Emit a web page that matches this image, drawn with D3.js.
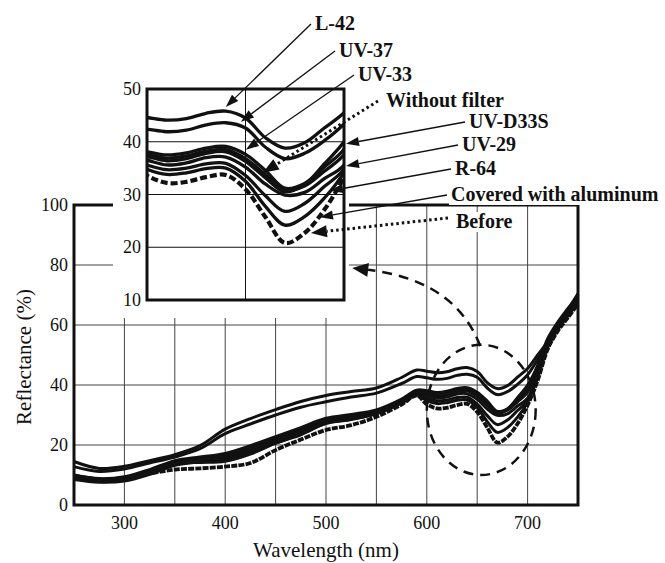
<!DOCTYPE html>
<html>
<head>
<meta charset="utf-8">
<script src="https://cdn.jsdelivr.net/npm/d3@7"></script>
<style>
body { margin: 0; background: #fff; }
text { font-family: "Liberation Serif", "Times New Roman", serif; fill: #111; }
</style>
</head>
<body>
<div id="viz"></div>
<script>
var wavelengths = [250, 275, 300, 325, 350, 375, 400, 425, 450, 475, 500, 525, 550, 575, 590,
  600, 610, 620, 630, 640, 650, 660, 670, 680, 690, 700, 710, 720, 730, 740, 750]

var l42 = [14.5, 12.2, 12.9, 14.8, 16.8, 19.8, 25.3, 28.8, 31.8, 34.5, 36.5, 37.8, 39.0, 42.5, 45.0,
  44.6, 44.1, 44.4, 45.4, 45.8, 44.5, 40.8, 38.8, 39.8, 42.6, 45.5, 50.0, 54.5, 59.5, 65.0, 70.5]
var uv37 = [12.8, 11.2, 12.0, 14.0, 16.0, 18.8, 23.8, 27.0, 30.0, 32.6, 34.4, 36.0, 37.3, 40.5, 42.8,
  42.4, 41.9, 42.2, 43.2, 43.6, 42.6, 39.0, 36.8, 37.8, 40.2, 43.4, 48.5, 53.5, 58.8, 64.5, 70.0]
var uv33 = [10.0, 8.8, 9.4, 11.8, 14.8, 16.0, 17.2, 19.8, 22.8, 25.8, 28.9, 30.2, 31.7, 35.3, 38.3,
  38.1, 37.5, 37.9, 38.8, 39.1, 37.6, 34.6, 31.2, 32.1, 35.2, 38.6, 46.5, 55.0, 60.5, 65.0, 69.5]
var withoutFilter = [9.6, 8.5, 9.0, 11.5, 14.5, 15.6, 16.6, 19.2, 22.2, 25.0, 28.3, 29.8, 31.3, 35.0, 38.0,
  37.6, 36.9, 37.3, 38.2, 38.5, 36.8, 33.8, 30.8, 31.6, 34.4, 37.6, 45.5, 54.5, 60.0, 64.5, 69.0]
var uvd33s = [9.2, 8.2, 8.7, 11.0, 14.0, 15.2, 16.2, 18.8, 21.8, 24.5, 28.0, 29.4, 31.0, 34.6, 37.6,
  37.2, 36.4, 36.8, 37.8, 38.1, 36.3, 33.2, 30.5, 31.9, 35.8, 40.0, 46.5, 55.5, 61.0, 65.5, 69.8]
var uv29 = [8.8, 7.8, 8.3, 10.6, 13.6, 14.8, 15.6, 18.2, 21.2, 24.0, 27.5, 29.0, 30.6, 34.2, 37.2,
  36.5, 35.6, 36.0, 37.0, 37.1, 35.2, 32.0, 29.9, 30.4, 33.0, 35.6, 44.0, 53.5, 59.5, 64.0, 68.5]
var r64 = [8.5, 7.6, 8.0, 10.2, 13.2, 14.4, 15.0, 17.6, 20.6, 23.6, 27.2, 28.6, 30.4, 34.0, 36.9,
  35.6, 34.7, 35.0, 35.8, 35.9, 33.6, 29.8, 26.8, 28.3, 31.5, 34.8, 43.0, 53.0, 59.0, 63.5, 68.0]
var covered = [9.0, 8.0, 8.4, 10.8, 13.8, 14.2, 14.6, 17.0, 20.6, 23.4, 27.2, 28.5, 30.6, 34.0, 36.7,
  34.8, 33.8, 34.1, 34.9, 35.0, 32.5, 27.8, 24.2, 25.8, 29.3, 34.2, 42.5, 52.5, 58.5, 63.0, 67.5]
var before = [9.8, 8.6, 9.0, 10.5, 11.8, 12.2, 12.8, 14.0, 18.3, 21.8, 25.0, 26.6, 29.4, 33.5, 36.5,
  33.6, 32.2, 32.4, 33.3, 33.7, 31.0, 25.8, 20.8, 22.7, 27.1, 33.3, 41.5, 52.0, 58.0, 62.5, 67.0]

var seriesNames = ['L-42', 'UV-37', 'UV-33', 'Without filter', 'UV-D33S', 'UV-29', 'R-64', 'Covered with aluminum', 'Before']
var seriesValues = [l42, uv37, uv33, withoutFilter, uvd33s, uv29, r64, covered, before]

// where each label's arrow points, in inset data units (nm, %)
var tipWavelength = [640, 647.7, 650.2, 658.8, 701, 701, 692.9, 687.8, 683.2]
var tipValue = [46.6, 43.8, 38.5, 34.1, 39.6, 35.4, 30.7, 25.7, 22.7]
var dottedArrow = ['Without filter', 'Before']

var xTicks = [300, 400, 500, 600, 700]
var xGrid = [300, 350, 400, 450, 500, 550, 600, 650, 700]
var yTicks = [0, 20, 40, 60, 80, 100]
var insetTicks = [10, 20, 30, 40, 50]

// label text positions (left, baseline)
var labelPos = [[315, 30], [339, 57], [358, 81], [386, 107], [469, 128], [462, 151], [455, 175], [451, 201], [456, 228]]

var series = seriesNames.map(function(name, i) {
  return {name: name, values: seriesValues[i].map(function(v, j) { return [wavelengths[j], v] })}
})

var x = d3.scaleLinear().domain([250, 750]).range([74, 578])
var y = d3.scaleLinear().domain([0, 100]).range([505, 205])
var ix = d3.scaleLinear().domain([600, 700]).range([147, 344])
var iy = d3.scaleLinear().domain([10, 50]).range([300, 89])

var svg = d3.select('#viz').append('svg')
  .attr('width', 665)
  .attr('height', 563)
  .style('background', '#fff')

// main grid
svg.append('g').selectAll('line').data(xGrid)
  .enter().append('line')
  .attr('x1', function(d) { return x(d) }).attr('x2', function(d) { return x(d) })
  .attr('y1', y(100)).attr('y2', y(0))
  .attr('stroke', '#444').attr('stroke-width', 1)

svg.append('g').selectAll('line').data(yTicks.slice(1, -1))
  .enter().append('line')
  .attr('x1', x(250)).attr('x2', x(750))
  .attr('y1', function(d) { return y(d) }).attr('y2', function(d) { return y(d) })
  .attr('stroke', '#444').attr('stroke-width', 1)

var mainLine = d3.line()
  .x(function(d) { return x(d[0]) })
  .y(function(d) { return y(d[1]) })
  .curve(d3.curveCatmullRom.alpha(0.5))

svg.append('g').selectAll('path').data(series)
  .enter().append('path')
  .attr('d', function(d) { return mainLine(d.values) })
  .attr('fill', 'none')
  .attr('stroke', '#111')
  .attr('stroke-linejoin', 'round')
  .attr('stroke-width', function(d) { return d.name == 'Before' ? 3.8 : 3 })
  .attr('stroke-dasharray', function(d) { return d.name == 'Before' ? '6,1.2' : null })

svg.append('rect')
  .attr('x', x(250)).attr('y', y(100))
  .attr('width', x(750) - x(250)).attr('height', y(0) - y(100))
  .attr('fill', 'none').attr('stroke', '#111').attr('stroke-width', 3)

svg.append('g').selectAll('text').data(yTicks)
  .enter().append('text')
  .attr('x', 68).attr('y', function(d) { return y(d) + 6 })
  .attr('text-anchor', 'end').attr('font-size', 18)
  .text(function(d) { return d })

svg.append('g').selectAll('text').data(xTicks)
  .enter().append('text')
  .attr('x', function(d) { return x(d) }).attr('y', 529)
  .attr('text-anchor', 'middle').attr('font-size', 18)
  .text(function(d) { return d })

svg.append('text')
  .attr('x', 326).attr('y', 557)
  .attr('text-anchor', 'middle').attr('font-size', 21)
  .text('Wavelength (nm)')

svg.append('text')
  .attr('transform', 'translate(31,357) rotate(-90)')
  .attr('text-anchor', 'middle').attr('font-size', 21)
  .text('Reflectance (%)')

// dashed ellipse round the dip
svg.append('ellipse')
  .attr('cx', x(654)).attr('cy', y(31.7))
  .attr('rx', x(654 + 54) - x(654)).attr('ry', y(0) - y(21.7))
  .attr('fill', 'none').attr('stroke', '#111').attr('stroke-width', 2.5)
  .attr('stroke-dasharray', '10,7')

// inset
svg.append('rect')
  .attr('x', 113).attr('y', 78).attr('width', 236).attr('height', 240)
  .attr('fill', '#fff')

svg.append('clipPath').attr('id', 'insetClip')
  .append('rect')
  .attr('x', ix(600)).attr('y', iy(50))
  .attr('width', ix(700) - ix(600)).attr('height', iy(10) - iy(50))

svg.append('g').selectAll('line').data(insetTicks.slice(1, -1))
  .enter().append('line')
  .attr('x1', ix(600)).attr('x2', ix(700))
  .attr('y1', function(d) { return iy(d) }).attr('y2', function(d) { return iy(d) })
  .attr('stroke', '#111').attr('stroke-width', 1)

svg.append('line')
  .attr('x1', ix(650)).attr('x2', ix(650))
  .attr('y1', iy(50)).attr('y2', iy(10))
  .attr('stroke', '#111').attr('stroke-width', 1)

var insetLine = d3.line()
  .x(function(d) { return ix(d[0]) })
  .y(function(d) { return iy(d[1]) })
  .curve(d3.curveCatmullRom.alpha(0.5))

svg.append('g').attr('clip-path', 'url(#insetClip)')
  .selectAll('path').data(series)
  .enter().append('path')
  .attr('d', function(d) {
    return insetLine(d.values.filter(function(p) { return p[0] >= 590 && p[0] <= 710 }))
  })
  .attr('fill', 'none')
  .attr('stroke', '#111')
  .attr('stroke-width', function(d) { return d.name == 'Before' ? 4.2 : 3.3 })
  .attr('stroke-dasharray', function(d) { return d.name == 'Before' ? '7,3' : null })

svg.append('rect')
  .attr('x', ix(600)).attr('y', iy(50))
  .attr('width', ix(700) - ix(600)).attr('height', iy(10) - iy(50))
  .attr('fill', 'none').attr('stroke', '#111').attr('stroke-width', 3)

svg.append('g').selectAll('text').data(insetTicks)
  .enter().append('text')
  .attr('x', 141).attr('y', function(d) { return iy(d) + 6 })
  .attr('text-anchor', 'end').attr('font-size', 18)
  .text(function(d) { return d })

// labels with white backing
var labels = svg.append('g').selectAll('g').data(series)
  .enter().append('g')

labels.append('text')
  .attr('x', function(d, i) { return labelPos[i][0] })
  .attr('y', function(d, i) { return labelPos[i][1] })
  .attr('font-size', 20).attr('font-weight', 'bold')
  .text(function(d) { return d.name })

labels.each(function() {
  var b = d3.select(this).select('text').node().getBBox()
  d3.select(this).insert('rect', 'text')
    .attr('x', b.x - 2).attr('y', b.y + 2)
    .attr('width', b.width + 4).attr('height', b.height - 2)
    .attr('fill', '#fff')
})

function arrowHead(x0, y0, x1, y1, len, half) {
  var dx = x1 - x0, dy = y1 - y0, l = Math.sqrt(dx * dx + dy * dy)
  var ux = dx / l, uy = dy / l
  var bx = x1 - ux * len, by = y1 - uy * len
  return {base: [bx, by], points: [[x1, y1], [bx - uy * half, by + ux * half], [bx + uy * half, by - ux * half]]}
}

var arrows = svg.append('g')
series.forEach(function(d, i) {
  var dotted = dottedArrow.indexOf(d.name) >= 0
  var x0 = labelPos[i][0] - (dotted ? 8 : 4), y0 = labelPos[i][1] - (d.name == 'Before' ? 10 : 6)
  var x1 = ix(tipWavelength[i]), y1 = iy(tipValue[i])
  var h = arrowHead(x0, y0, x1, y1, dotted ? 16 : 13, dotted ? 6 : 4.5)
  arrows.append('line')
    .attr('x1', x0).attr('y1', y0)
    .attr('x2', h.base[0]).attr('y2', h.base[1])
    .attr('stroke', '#111')
    .attr('stroke-width', dotted ? 3 : 1.3)
    .attr('stroke-dasharray', dotted ? '2.5,3' : null)
  arrows.append('polygon')
    .attr('points', h.points.map(function(p) { return p.join(',') }).join(' '))
    .attr('fill', '#111')
})

// dashed curved arrow from the ellipse to the inset
var cStart = [x(653), y(53)], cCtrl = [x(628), y(75)], cEnd = [x(526), y(79)]
var ch = arrowHead(cCtrl[0], cCtrl[1], cEnd[0], cEnd[1], 16, 7)
svg.append('path')
  .attr('d', 'M' + cStart + 'Q' + cCtrl + ' ' + ch.base)
  .attr('fill', 'none').attr('stroke', '#111').attr('stroke-width', 2.5)
  .attr('stroke-dasharray', '10,7')
svg.append('polygon')
  .attr('points', ch.points.map(function(p) { return p.join(',') }).join(' '))
  .attr('fill', '#111')
</script>
</body>
</html>
